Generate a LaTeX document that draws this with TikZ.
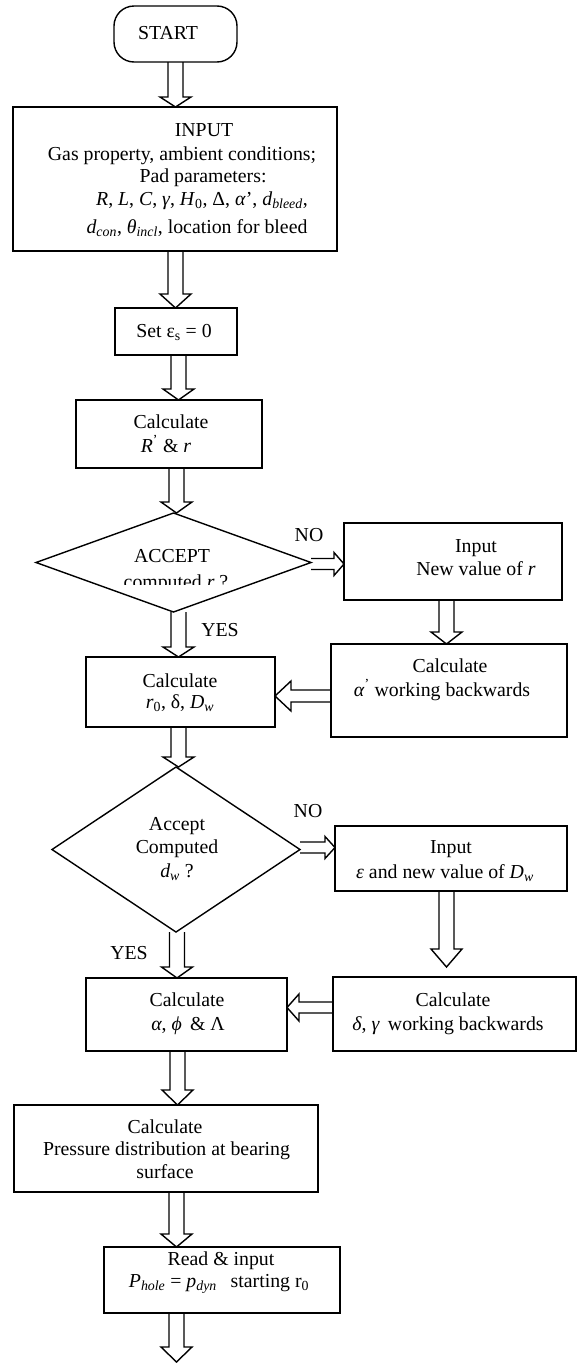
\documentclass[tikz,border=0pt]{standalone}
\usepackage{fontspec}
\setmainfont{Liberation Serif}
\usetikzlibrary{shapes.geometric,calc}
\newcommand\vblk[4]{%
  \draw[blk] let \p1=#1, \p2=#2 in
    ({#3pt-7.5pt},\y1) -- ({#3pt-7.5pt},{\y2+#4pt}) -- ({#3pt-15.5pt},{\y2+#4pt})
    -- ({#3pt},\y2) -- ({#3pt+15.5pt},{\y2+#4pt}) -- ({#3pt+7.5pt},{\y2+#4pt})
    -- ({#3pt+7.5pt},\y1);}
\newcommand\hblk[6]{%
  \draw[blk] let \p1=#1, \p2=#2 in
    (\x1,{-#3pt+#4pt}) -- ({\x2+#6pt},{-#3pt+#4pt}) -- ({\x2+#6pt},{-#3pt+#5pt})
    -- (\x2,{-#3pt}) -- ({\x2+#6pt},{-#3pt-#5pt}) -- ({\x2+#6pt},{-#3pt-#4pt})
    -- (\x1,{-#3pt-#4pt});}
\newcommand\mkbox[5]{\node[box, minimum width={(#4-#2)*1pt}, minimum height={(#5-#3)*1pt}] (#1) at ({(#2+#4)/2},{-(#3+#5)/2}) {};}
\newcommand\tx[4]{\node[txt] (#1) at (#2,-#3) {#4};}
\newcommand\lbl[4]{\node[lab] (#1) at (#2,-#3) {#4};}
\begin{document}
\begin{tikzpicture}[x=1pt,y=1pt,
  box/.style={draw, line width=1.4pt, outer sep=0pt, inner sep=0pt},
  dia/.style={diamond, draw, line width=1.4pt, outer sep=0pt, inner sep=0pt},
  blk/.style={draw, line width=1.4pt, line join=miter},
  txt/.style={anchor=base, inner sep=0pt, font=\fontsize{19.8}{23}\selectfont},
  lab/.style={anchor=center, inner sep=0pt, font=\fontsize{19.8}{23}\selectfont}]
\useasboundingbox (0,0) rectangle (582,-1363);
% nodes
\node[box, rounded corners=20pt, minimum width=123pt, minimum height=56pt] (start) at (175.5,-34) {};
\mkbox{input}{13}{107}{337}{251}
\mkbox{set}{115}{308}{237}{355}
\mkbox{calr}{76}{400}{262}{468}
\node[dia, minimum width=275pt, minimum height=99pt] (d1) at (173.5,-562.5) {};
\mkbox{r1}{344}{523}{562}{600}
\mkbox{ca}{331}{644}{567}{737}
\mkbox{c0}{86}{657}{275}{727}
\node[dia, minimum width=248pt, minimum height=165pt] (d2) at (176,-849.5) {};
\mkbox{r2}{335}{826}{567}{891}
\mkbox{cal}{86}{978}{287}{1051}
\mkbox{dg}{333}{977}{576}{1051}
\mkbox{pr}{14}{1105}{318}{1192}
\mkbox{rd}{104}{1247}{340}{1313}
\coordinate (dgin) at (446.5,-967);
\coordinate (fin) at (176.5,-1362);
% texts
\tx{tstart}{168}{39}{START}
\tx{ti1}{204}{136}{INPUT}
\tx{ti2}{182}{160}{Gas property, ambient conditions;}
\tx{ti3}{203}{182}{Pad parameters:}
\tx{ti4}{202}{205}{\textit{R}, \textit{L}, \textit{C}, \textit{γ}, \textit{H}\textsubscript{0}, Δ, \textit{α}’, \textit{d}\textsubscript{\textit{bleed}},}
\tx{ti5}{197}{233}{\textit{d}\textsubscript{\textit{con}}, \textit{θ}\textsubscript{\textit{incl}}, location for bleed}
\tx{tset}{174}{337}{Set ε\textsubscript{s} = 0}
\tx{tcr1}{171}{428}{Calculate}
\tx{tcr2}{166}{452}{\textit{R}\textsuperscript{’} \& \textit{r}}
\tx{td1a}{172}{562}{ACCEPT}
\begin{scope}
\clip (30,-513) rectangle (320,-584);
\tx{td1b}{176}{588}{computed \textit{r} ?}
\end{scope}
\lbl{no1}{309}{535}{NO}
\tx{tr1a}{476}{552}{Input}
\tx{tr1b}{476}{575}{New value of \textit{r}}
\tx{tca1}{450}{672}{Calculate}
\tx{tca2}{442}{696}{\textit{α}\textsuperscript{’} working backwards}
\lbl{yes1}{220}{630}{YES}
\tx{tc01}{180}{687}{Calculate}
\tx{tc02}{180}{708}{\textit{r}\textsubscript{0}, δ, \textit{D}\textsubscript{\textit{w}}}
\tx{td2a}{177}{830}{Accept}
\tx{td2b}{177}{853}{Computed}
\tx{td2c}{177}{877}{\textit{d}\textsubscript{\textit{w}} ?}
\lbl{no2}{308}{811}{NO}
\tx{tr2a}{451}{853}{Input}
\tx{tr2b}{445}{878}{\textit{ε} and new value of \textit{D}\textsubscript{\textit{w}}}
\lbl{yes2}{129}{953}{YES}
\tx{tcal1}{187}{1006}{Calculate}
\tx{tcal2}{188}{1030}{\textit{α}, \textit{ϕ}\, \& Λ}
\tx{tdg1}{453}{1006}{Calculate}
\tx{tdg2}{448}{1030}{\textit{δ}, \textit{γ}\, working backwards}
\tx{tpr1}{165}{1133}{Calculate}
\tx{tpr2}{166.5}{1155}{Pressure distribution at bearing}
\tx{tpr3}{165}{1178}{surface}
\tx{trd1}{221}{1265}{Read \& input}
\tx{trd2}{219}{1287}{\textit{P}\textsubscript{\textit{hole}} = \textit{p}\textsubscript{\textit{dyn}}\hspace{0.7em}starting r\textsubscript{0}}
% connectors
\vblk{(start.south)}{(input.north)}{175.5}{10}
\vblk{(input.south)}{(set.north)}{175.5}{14}
\vblk{(set.south)}{(calr.north)}{178.5}{11}
\vblk{(calr.south)}{(d1.north)}{176.5}{11}
\vblk{(d1.south)}{(c0.north)}{178.5}{10}
\vblk{(c0.south)}{(d2.north)}{178.5}{10}
\vblk{(d2.south)}{(cal.north)}{177}{11}
\vblk{(cal.south)}{(pr.north)}{177.5}{15}
\vblk{(pr.south)}{(rd.north)}{176.5}{13}
\vblk{(rd.south)}{(fin)}{176.5}{15}
\vblk{(r1.south)}{(ca.north)}{446.5}{12}
\vblk{(r2.south)}{(dgin)}{446.5}{18}
\hblk{(d1.east)}{(r1.west)}{564}{5.5}{11.5}{-10}
\hblk{(d2.east)}{(r2.west)}{847.5}{5.5}{11}{-10}
\hblk{(ca.west)}{(c0.east)}{696}{6}{15}{16}
\hblk{(dg.west)}{(cal.east)}{1007.5}{5.5}{13.5}{12}
\end{tikzpicture}
\end{document}
